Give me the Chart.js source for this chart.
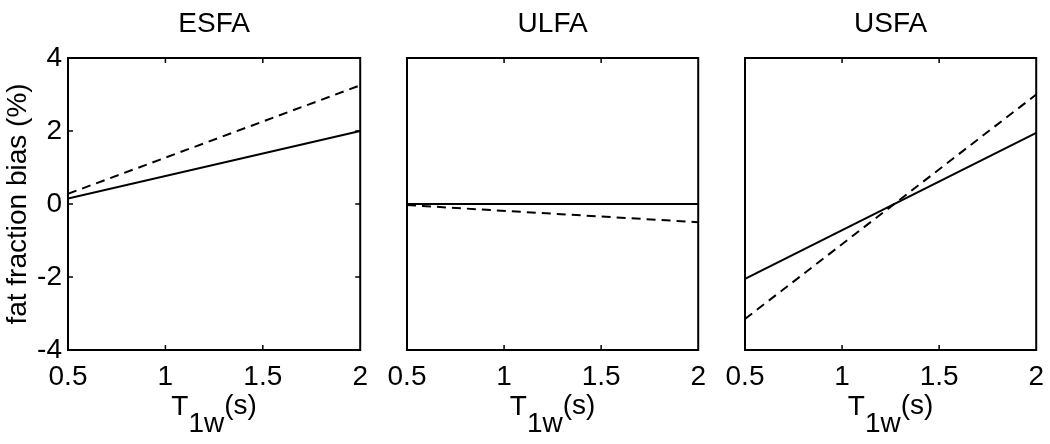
<!DOCTYPE html>
<html>
<head>
<meta charset="utf-8">
<script src="https://cdn.jsdelivr.net/npm/chart.js@4.4.1/dist/chart.umd.min.js"></script>
<style>
  body { margin: 0; background: #fff; overflow: hidden; }
  #wrap { position: relative; width: 1050px; height: 444px; overflow: hidden; }
  canvas { position: absolute; top: 0; }
</style>
</head>
<body>
<div id="wrap">
  <canvas id="c1" width="378" height="444" style="left:0px"></canvas>
  <canvas id="c2" width="341" height="444" style="left:375px"></canvas>
  <canvas id="c3" width="339" height="444" style="left:715px"></canvas>
</div>
<script>
// T1w values (s) at the line ends
const t1w = [0.5, 2];
const panelTitles = ['ESFA', 'ULFA', 'USFA'];

// fat fraction bias (%)
const esfaSolid = [0.15, 2.0];
const esfaDashed = [0.28, 3.25];
const ulfaSolid = [0, 0];
const ulfaDashed = [-0.03, -0.5];
const usfaSolid = [-2.05, 1.95];
const usfaDashed = [-3.15, 3.0];

const xTickValues = [0.5, 1, 1.5, 2];
const yTickValues = [-4, -2, 0, 2, 4];
const yLabel = 'fat fraction bias (%)';

const FONT = "'Liberation Sans', Arial, Helvetica, sans-serif";
Chart.defaults.font.family = FONT;
Chart.defaults.color = '#000';

const toPoints = vals => vals.map((v, i) => ({ x: t1w[i], y: v }));

// box + inward ticks like the original figure, plus the T1w(s) axis label
const framePlugin = {
  id: 'frame',
  afterDraw(chart, args, opts) {
    const { ctx, chartArea: a, scales } = chart;
    const x = scales.x, y = scales.y;
    ctx.save();
    ctx.strokeStyle = '#000';
    ctx.lineWidth = 2;
    ctx.strokeRect(a.left, a.top, a.width, a.height);
    ctx.lineWidth = 1.5;
    ctx.beginPath();
    xTickValues.slice(1, -1).forEach(v => {
      const px = x.getPixelForValue(v);
      ctx.moveTo(px, a.bottom); ctx.lineTo(px, a.bottom - 5);
      ctx.moveTo(px, a.top); ctx.lineTo(px, a.top + 5);
    });
    if (opts.yMarks) {
      yTickValues.slice(1, -1).forEach(v => {
        const py = y.getPixelForValue(v);
        ctx.moveTo(a.left, py); ctx.lineTo(a.left + 5, py);
        ctx.moveTo(a.right, py); ctx.lineTo(a.right - 5, py);
      });
    }
    ctx.stroke();

    // x axis label: T with subscript 1w, then (s)
    ctx.fillStyle = '#000';
    ctx.textBaseline = 'alphabetic';
    ctx.font = '28px ' + FONT;
    const wT = ctx.measureText('T').width;
    const w1 = ctx.measureText('1w').width;
    const wS = ctx.measureText('(s)').width;
    let cx = (a.left + a.right) / 2 - (wT + w1 + wS) / 2;
    ctx.fillText('T', cx, 415);
    cx += wT;
    ctx.fillText('1w', cx, 432);
    cx += w1;
    ctx.fillText('(s)', cx, 414);
    ctx.restore();
  }
};

function makePanel(id, title, solid, dashed, first, yWidth) {
  return new Chart(document.getElementById(id), {
    type: 'line',
    data: {
      datasets: [
        {
          label: 'solid',
          data: toPoints(solid),
          borderColor: '#000',
          borderWidth: 2,
          pointRadius: 0,
          fill: false
        },
        {
          label: 'dashed',
          data: toPoints(dashed),
          borderColor: '#000',
          borderWidth: 2,
          borderDash: [9, 6],
          pointRadius: 0,
          fill: false
        }
      ]
    },
    options: {
      responsive: false,
      animation: false,
      layout: { padding: 0 },
      plugins: {
        legend: { display: false },
        tooltip: { enabled: false },
        title: {
          display: true,
          fullSize: false,
          text: title,
          font: { size: 28, weight: 'normal' },
          color: '#000',
          padding: { top: 7.5, bottom: 16.9 }
        },
        frame: { yMarks: first }
      },
      scales: {
        x: {
          type: 'linear',
          min: 0.5,
          max: 2,
          afterBuildTicks: s => { s.ticks = xTickValues.map(v => ({ value: v })); },
          afterFit: s => { s.height = 94; },
          ticks: {
            font: { size: 28 },
            color: '#000',
            padding: 10,
            maxRotation: 0,
            autoSkip: false,
            callback: v => String(v)
          },
          grid: { display: false, drawTicks: false, tickLength: 0 },
          border: { display: false }
        },
        y: {
          min: -4,
          max: 4,
          afterBuildTicks: s => { s.ticks = yTickValues.map(v => ({ value: v })); },
          afterFit: s => { s.width = yWidth; },
          ticks: {
            display: first,
            font: { size: 28 },
            color: '#000',
            padding: 6,
            callback: v => String(v)
          },
          title: {
            display: first,
            text: yLabel,
            font: { size: 28 },
            color: '#000',
            padding: { top: 1, bottom: 0 }
          },
          grid: { display: false, drawTicks: false, tickLength: 0 },
          border: { display: false }
        }
      }
    },
    plugins: [framePlugin]
  });
}

makePanel('c1', panelTitles[0], esfaSolid, esfaDashed, true, 68);
makePanel('c2', panelTitles[1], ulfaSolid, ulfaDashed, false, 32);
makePanel('c3', panelTitles[2], usfaSolid, usfaDashed, false, 30);
</script>
</body>
</html>
